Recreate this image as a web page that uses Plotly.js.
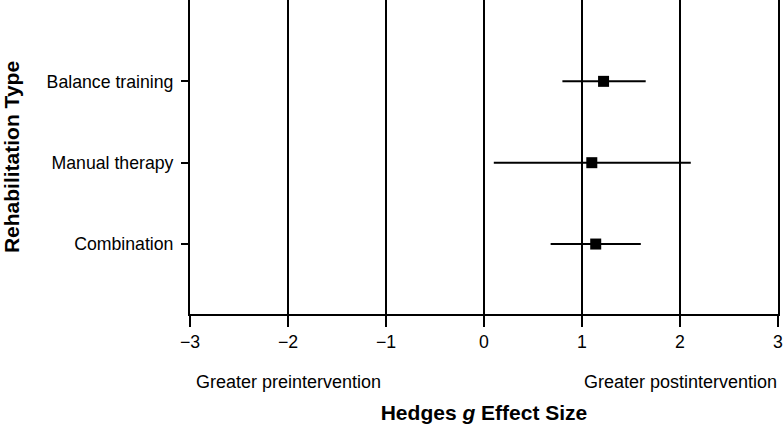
<!DOCTYPE html>
<html>
<head>
<meta charset="utf-8">
<script src="https://cdn.plot.ly/plotly-3.0.1.min.js"></script>
<style>html,body{margin:0;padding:0;background:#fff;}#chart{width:784px;height:427px;}</style>
</head>
<body>
<div id="chart"></div>
<script>
const categories = ['Balance training', 'Manual therapy', 'Combination'];
const effectSize = [1.22, 1.10, 1.14];
const ciLower = [0.80, 0.10, 0.68];
const ciUpper = [1.65, 2.11, 1.60];
const xTickVals = [-3, -2, -1, 0, 1, 2, 3];
const directionLabels = ['Greater preintervention', 'Greater postintervention'];
const directionPositions = [-2, 2];

const font = 'Liberation Sans, Arial, sans-serif';

const trace = {
  type: 'scatter',
  mode: 'markers',
  x: effectSize,
  y: categories,
  marker: {symbol: 'square', size: 11, color: '#000'},
  error_x: {
    type: 'data',
    symmetric: false,
    array: effectSize.map((v, i) => ciUpper[i] - v),
    arrayminus: effectSize.map((v, i) => v - ciLower[i]),
    color: '#000',
    thickness: 2,
    width: 0
  },
  showlegend: false,
  hoverinfo: 'x+y'
};

const layout = {
  width: 784,
  height: 427,
  margin: {l: 190, r: 6, t: 0, b: 113},
  paper_bgcolor: '#fff',
  plot_bgcolor: '#fff',
  font: {family: font, size: 17.7, color: '#000'},
  xaxis: {
    range: [-3, 3],
    tickvals: xTickVals,
    ticks: 'outside',
    ticklen: 11,
    tickwidth: 2,
    tickcolor: '#000',
    showline: true,
    linecolor: '#000',
    linewidth: 2,
    showgrid: true,
    gridcolor: '#000',
    gridwidth: 2,
    zeroline: false,
    tickfont: {family: font, size: 17.7, color: '#000'},
    title: {text: '<b>Hedges <i>g</i> Effect Size</b>', font: {family: font, size: 21, color: '#000'}, standoff: 54},
    fixedrange: true
  },
  yaxis: {
    type: 'category',
    range: [2.86, -1],
    ticks: 'outside',
    ticklen: 7,
    tickwidth: 2,
    tickcolor: '#000',
    showline: true,
    mirror: true,
    linecolor: '#000',
    linewidth: 2,
    showgrid: false,
    zeroline: false,
    ticklabelstandoff: 4,
    tickfont: {family: font, size: 17.7, color: '#000'},
    title: {text: '<b>Rehabilitation Type</b>', font: {family: font, size: 21, color: '#000'}, standoff: 26},
    fixedrange: true
  },
  annotations: directionLabels.map((t, i) => ({
    text: t,
    x: directionPositions[i],
    xref: 'x',
    y: 0,
    yref: 'paper',
    yanchor: 'middle',
    yshift: -68,
    showarrow: false,
    font: {family: font, size: 18, color: '#000'}
  }))
};

Plotly.newPlot('chart', [trace], layout, {displayModeBar: false, staticPlot: true});
</script>
</body>
</html>
